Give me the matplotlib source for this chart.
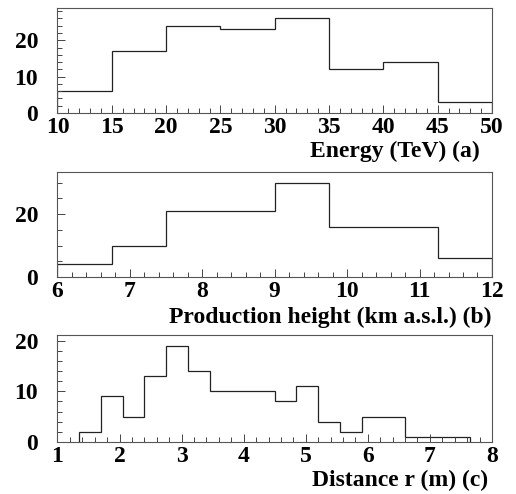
import numpy as np
import matplotlib
matplotlib.use("Agg")
import matplotlib.pyplot as plt
from matplotlib.ticker import MultipleLocator

# (a) energy distribution
energy_edges = [10, 15, 20, 25, 30, 35, 40, 45, 50]
energy_counts = [6, 17, 24, 23, 26, 12, 14, 3]

# (b) production height
height_edges = [6.0, 6.75, 7.5, 8.25, 9.0, 9.75, 10.5, 11.25, 12.0]
height_counts = [4, 10, 21, 21, 30, 16, 16, 6]

# (c) distance r
dist_edges = [1.35, 1.70, 2.05, 2.40, 2.75, 3.10, 3.45, 3.80, 4.15, 4.50,
              4.85, 5.20, 5.55, 5.90, 6.25, 6.60, 6.95, 7.30, 7.65]
dist_counts = [2, 9, 5, 13, 19, 14, 10, 10, 10, 8, 11, 4, 2, 5, 5, 1, 1, 1]

plt.rcParams['font.family'] = ['Liberation Serif', 'DejaVu Serif']
plt.rcParams['font.weight'] = 'bold'
plt.rcParams['font.size'] = 17

fig = plt.figure(figsize=(5.16, 4.94), dpi=100)

panels = [
    # edges, counts, xlim, ylim, xmaj, xmin, ymaj, ymin, label, rect, label x/y
    (energy_edges, energy_counts, (10, 50), (0, 28.9), 5, 1, 10, 2,
     "Energy (TeV) (a)", [0.1114, 0.7713, 0.842, 0.2126], (0.972, -0.265)),
    (height_edges, height_counts, (6, 12), (0, 33.4), 1, 0.2, 20, 5,
     "Production height (km a.s.l.) (b)", [0.1114, 0.4393, 0.842, 0.2126], (1.0, -0.28)),
    (dist_edges, dist_counts, (1, 8), (0, 21.1), 1, 0.2, 10, 2,
     "Distance r (m) (c)", [0.1114, 0.1053, 0.842, 0.2166], (0.991, -0.26)),
]

for edges, counts, xlim, ylim, xmaj, xmin, ymaj, ymin, label, rect, lpos in panels:
    ax = fig.add_axes(rect)
    ax.stairs(counts, edges, baseline=0, fill=False, color='#222222', linewidth=0.9)
    ax.set_xlim(*xlim)
    ax.set_ylim(*ylim)
    ax.xaxis.set_major_locator(MultipleLocator(xmaj))
    ax.xaxis.set_minor_locator(MultipleLocator(xmin))
    ax.yaxis.set_major_locator(MultipleLocator(ymaj))
    ax.yaxis.set_minor_locator(MultipleLocator(ymin))
    ax.tick_params(which='both', direction='in', top=False, right=False,
                   color='#444444', width=0.7)
    ax.tick_params(which='major', length=6, labelsize=17, pad=3)
    ax.tick_params(axis='y', which='major', pad=14)
    ax.tick_params(which='minor', length=3.5)
    for lbl in ax.get_xticklabels() + ax.get_yticklabels():
        lbl.set_fontweight('bold')
    for sp in ax.spines.values():
        sp.set_color('#555555')
        sp.set_linewidth(0.8)
    ax.set_xlabel(label, fontsize=17, fontweight='bold', labelpad=0)
    ax.xaxis.set_label_coords(*lpos)
    ax.xaxis.label.set_ha('right')

fig.savefig("out.png", dpi=100)
